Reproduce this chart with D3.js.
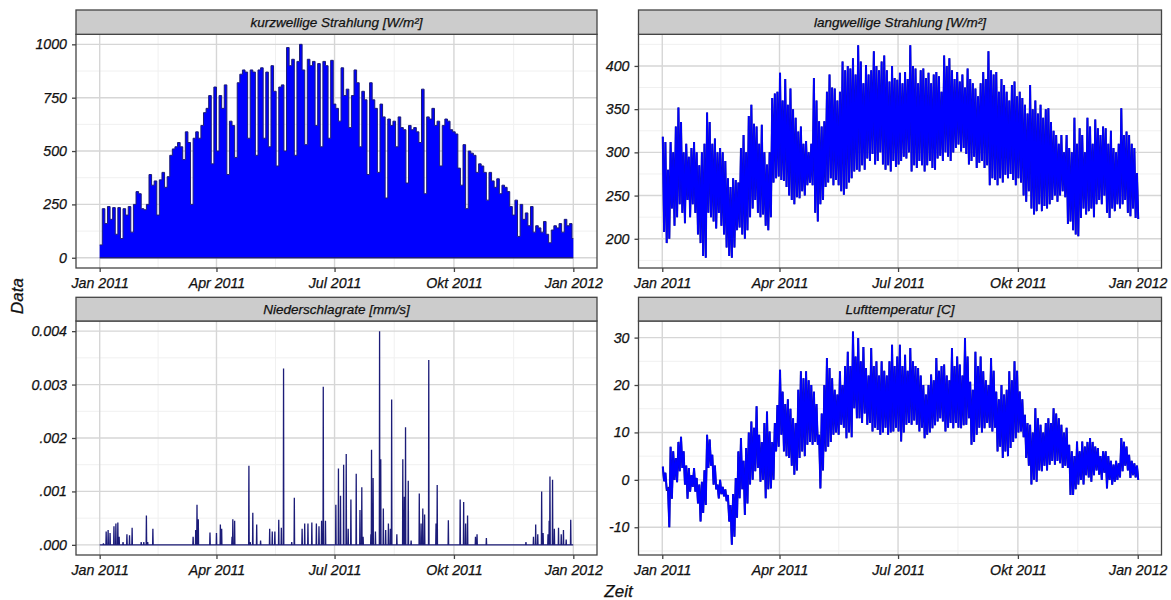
<!DOCTYPE html>
<html><head><meta charset="utf-8">
<script src="https://cdn.jsdelivr.net/npm/d3@7"></script>
<style>
body{margin:0;background:#fff}
text{font-family:"Liberation Sans",Arial,sans-serif;font-style:italic}
</style>
</head><body>
<svg id="chart" width="1171" height="600"></svg>
<script>
// ---------- DATA ----------
const sampleStepDays = 2; // one sample per two days
const swMax = [60,230,160,240,180,235,110,235,90,230,
200,240,120,250,310,300,230,225,250,390,
340,360,200,365,400,330,380,480,510,520,
540,520,460,590,540,250,560,590,560,620,
680,700,760,440,800,500,760,700,810,390,
640,620,470,820,860,880,870,560,880,870,
480,880,890,560,870,520,900,780,430,800,
810,500,985,900,930,480,920,1000,880,530,
930,900,920,620,910,520,920,900,560,925,
720,700,640,890,760,790,610,760,880,820,
520,780,740,390,820,740,700,400,720,660,
280,650,620,640,520,660,610,600,350,620,
600,610,590,540,790,300,660,650,700,620,
640,430,620,650,640,600,590,580,420,340,
530,230,500,490,480,400,440,430,400,270,
400,360,330,370,300,340,330,310,240,200,
270,100,250,180,210,150,240,120,150,140,
120,170,110,70,130,150,140,160,120,180,
150,160,90];

const lwMax = [318,312,280,312,300,330,352,335,300,310,
295,305,312,300,285,300,310,346,335,310,
316,300,305,300,290,270,260,270,268,265,
305,320,300,342,355,333,330,310,332,300,
286,300,363,368,370,392,360,385,355,374,
350,340,324,330,310,313,300,310,386,360,
336,330,336,370,390,375,374,360,370,405,
395,400,397,409,390,424,405,380,401,390,
395,417,400,395,405,412,395,382,400,386,
384,392,380,393,385,424,400,397,380,395,
397,386,392,380,390,393,388,370,412,400,
409,395,385,393,382,390,375,397,385,380,
374,365,380,393,385,417,395,390,393,370,
385,378,370,360,378,382,365,370,363,355,
345,378,350,360,345,355,340,350,351,335,
325,320,310,320,300,320,305,300,340,310,
328,320,300,340,330,310,338,328,320,330,
328,310,325,305,300,310,351,320,324,320,
310,305,276];
const lwMin = [208,195,200,235,215,225,240,230,218,245,
225,240,230,205,195,180,178,230,225,220,
212,230,215,205,190,180,178,190,210,213,
205,200,210,225,235,245,230,225,228,215,
210,225,265,270,272,268,267,260,250,245,
240,248,247,255,250,262,265,262,230,220,
240,245,260,265,270,262,268,262,255,251,
258,265,270,278,280,278,285,280,293,290,
298,286,290,300,286,280,285,278,290,283,
286,290,295,293,300,278,285,282,290,285,
278,285,290,282,280,293,296,290,300,295,
290,300,305,309,301,305,298,286,290,295,
282,288,290,282,285,262,270,268,262,270,
265,274,270,275,268,262,270,265,250,243,
255,235,228,232,240,232,238,235,240,245,
250,243,250,255,248,217,220,210,205,203,
224,235,228,232,235,225,240,245,240,250,
230,224,235,232,240,235,240,245,230,226,
235,224,223];

const tMax = [2.8,1.5,-1.8,7,6,4.6,8,9.1,6,3,
2.5,1,2.5,0.4,-1,-0.4,2,9.5,8.5,5.3,
3,-1,0,-1.5,-2,-3.2,-5.3,-3,0.4,6,
8.8,4,6.7,10,12.3,11,15.5,9.5,8,12,
14.4,10.2,8,12,15.8,23.2,18.6,16,17,15,
13,12,19,22.9,21.4,22.9,21,20,18.6,16,
9.5,14,20,25.7,23.6,21.4,19,18,22.9,20,
24,27,24,31.3,26,29.9,25,28,23.6,22,
27.8,24,25,22,25,23,22,25,28.5,24,
26,28.5,24,26.4,23,27.8,25,24,23.6,22,
20,18,20,22.2,21,25.7,23,24,24.3,22,
21,27.8,24,26,24.3,22,29.9,26,20.7,19,
27,24,26,22.9,21,20,25.7,23,18.6,17,
20,18,19,22.9,21,25,23,18.6,17,13.7,
12,11.6,10,15.1,13,11.6,10,12,13,12,
15.1,14,13,11.6,10,11,7.4,6,5,8.1,
6,8.1,7,8,8.8,8,7,6.7,5,6,
6,5,4,3.2,4,3.5,8.8,8,7,5.3,
4,3.5,3];
const tMin = [-0.3,-2,-10,-4,0,-0.5,1.8,2.5,-1,-4,
-2.5,-1.5,-2.5,-5,-8.8,-7,-5.3,2.5,3,-1,
-2,-3.9,-3,-3.5,-4.5,-8.8,-13.7,-12,-8,-3.9,
-2,-7.4,-5,-1,0,1.8,2.5,-0.4,0,-3.9,
-2,-1.8,0,6,7,9.5,6,5,4.6,3,
1.1,2,4.6,6,5,7.4,8,7.4,8,7.4,
-1.8,2,6,7,8,9.5,10,9.5,11.6,11,
8.8,10,9,15.1,13,13,12,14,11.6,12,
10.2,11,10.5,9.5,10,11,9.5,10,10.2,11,
10.2,8.1,10,11.6,12,11.6,12.5,11.6,10.2,11,
8.8,9.5,10,10.9,11.5,12.3,13,12.3,10.2,11,
12,10.9,12,11,10.9,11.5,11.6,13,7.4,8,
9.5,11,10,10.9,12,11,10.2,11,6,7,
4.6,6,5,6.7,8,8.8,10,10.2,9,4.6,
3,-1,0,-0.4,2,1.8,3,2,3.2,4,
3.2,4,3.5,2.5,3,2.5,-3.2,-3.2,-2,-1,
0,-1,1,0.5,-0.4,1,2,1.1,0,1.5,
-1.8,0,-1,-0.4,0,0.5,1.8,3,2,0.4,
1,0.5,0];

// precipitation events: day of year and rate
const rainDay = [2.9,5,6.5,8,11,12.5,14,15,18,21,23,25,32,34,36,37,41,72,74,75,76,85,90,93,94,102,102.6,104,115,116,118,121,124,131,133,135,138,140,141.7,148,150,156,158,160.5,163.5,167,169,171,172.3,174,182,184,185.6,188,190,191.5,193.6,197.7,200.6,202,203,209,209.5,210.7,212.5,215.7,216.6,218.6,220.4,222.5,224,225,229,233.6,234.8,235.7,237.8,240,246.3,247.7,249,250.4,253.6,259.2,260.1,268.7,277.8,280.5,282,283.5,289.6,290.8,298,328.5,334.3,336,337.6,340.6,341.7,345.5,346.4,347,349,350.4,353.6,355.7,357.4,359.5,363];
const rainVal = [0.00003,0.00025,0.00028,0.00022,0.00035,0.0004,0.00042,0.00015,0.00005,0.0002,0.00018,0.00032,0.00005,0.00005,0.00055,0.00005,0.0003,0.00015,0.00028,0.00075,0.00048,0.00023,0.00022,0.00038,0.0003,0.00015,0.00048,0.00045,0.00148,0.00005,0.0006,0.00038,0.00008,0.0003,0.00025,0.00025,0.00047,0.00032,0.0033,0.00005,0.00088,0.0003,0.0004,0.0004,0.00042,0.0004,0.00035,0.00045,0.00296,0.00045,0.00075,0.00143,0.00092,0.0015,0.0017,0.0003,0.00085,0.00133,0.00065,0.00108,0.00015,0.0002,0.00178,0.00125,0.00025,0.004,0.0016,0.00068,0.00028,0.0004,0.0003,0.00272,0.0002,0.0016,0.0009,0.0022,0.0012,0.00008,0.00096,0.0004,0.00068,0.00057,0.00346,0.0004,0.00112,0.00046,0.00085,0.0008,0.0004,0.00055,0.00015,0.0002,0.00013,0.00005,0.00015,0.00038,0.0002,0.001,0.00022,0.0002,0.00045,0.00128,0.00122,0.0003,0.00032,0.0002,0.00028,0.0001,0.00047];

const xTickDates = ["2011-01-01","2011-04-01","2011-07-01","2011-10-01","2012-01-01"];
const xTickLabels = ["Jan 2011","Apr 2011","Jul 2011","Okt 2011","Jan 2012"];
const panelTitles = ["kurzwellige Strahlung [W/m²]","langwellige Strahlung [W/m²]","Niederschlagrate [mm/s]","Lufttemperatur [C]"];
const swTicks = [0,250,500,750,1000];
const swTickLabels = ["0","250","500","750","1000"];
const lwTicks = [200,250,300,350,400];
const lwTickLabels = ["200","250","300","350","400"];
const rainTicks = [0,0.001,0.002,0.003,0.004];
const rainTickLabels = [".000",".001",".002","0.003","0.004"];
const tTicks = [-10,0,10,20,30];
const tTickLabels = ["-10","0","10","20","30"];
const xTitle = "Zeit", yTitle = "Data";

// ---------- DRAWING ----------
const svg = d3.select("#chart");
const t0 = Date.UTC(2011,0,1);
const dayDate = d => new Date(t0 + d*864e5);
const xTicks = xTickDates.map(s => new Date(s+"T00:00:00Z"));

const NAVY = "#1c1c78", BLUE = "#0000ff", INK = "#111";

function styleText(sel, size){
  sel.attr("font-size",size).attr("fill",INK)
    .attr("stroke",INK).attr("stroke-width",0.25)
    .style("font-family",'"Liberation Sans",Arial,sans-serif').style("font-style","italic");
}

function makePanel(cfg){
  const {left,right,stripTop,stripBottom,bottom,yDomain,yTicks,yLabels,title} = cfg;
  const w = right-left, pad = w/22;
  const x = d3.scaleUtc().domain([xTicks[0], xTicks[4]]).range([left+pad, right-pad]);
  const y = d3.scaleLinear().domain(yDomain).range([bottom, stripBottom]);
  const g = svg.append("g");
  const xMinor = d3.range(xTicks.length-1).map(i => new Date((+xTicks[i] + +xTicks[i+1])/2));
  const step = yTicks[1]-yTicks[0];
  const yMinor = d3.range(yTicks.length+1).map(i => yTicks[0] - step/2 + i*step)
      .filter(v => v>yDomain[0] && v<yDomain[1]);
  g.selectAll(".ymin").data(yMinor).join("line")
    .attr("x1",left).attr("x2",right).attr("y1",d=>y(d)).attr("y2",d=>y(d))
    .attr("stroke","#f0f0f0").attr("stroke-width",1);
  g.selectAll(".xmin").data(xMinor).join("line")
    .attr("y1",stripBottom).attr("y2",bottom).attr("x1",d=>x(d)).attr("x2",d=>x(d))
    .attr("stroke","#f0f0f0").attr("stroke-width",1);
  g.selectAll(".ymaj").data(yTicks).join("line")
    .attr("x1",left).attr("x2",right).attr("y1",d=>y(d)).attr("y2",d=>y(d))
    .attr("stroke","#d6d6d6").attr("stroke-width",1.4);
  g.selectAll(".xmaj").data(xTicks).join("line")
    .attr("y1",stripBottom).attr("y2",bottom).attr("x1",d=>x(d)).attr("x2",d=>x(d))
    .attr("stroke","#d6d6d6").attr("stroke-width",1.4);
  const clipId = "clip"+cfg.id;
  svg.append("clipPath").attr("id",clipId).append("rect")
    .attr("x",left).attr("y",stripBottom).attr("width",w).attr("height",bottom-stripBottom);
  const sg = g.append("g").attr("clip-path",`url(#${clipId})`);
  cfg.draw(sg,x,y);
  g.append("rect").attr("x",left).attr("y",stripBottom).attr("width",w).attr("height",bottom-stripBottom)
    .attr("fill","none").attr("stroke","#444").attr("stroke-width",1.3);
  g.append("rect").attr("x",left).attr("y",stripTop).attr("width",w).attr("height",stripBottom-stripTop)
    .attr("fill","#cccccc").attr("stroke","#444").attr("stroke-width",1.3);
  const st = g.append("text").attr("x",(left+right)/2).attr("y",(stripTop+stripBottom)/2).attr("dy","0.36em")
    .attr("text-anchor","middle").text(title);
  styleText(st, 13.5);
  const xAxis = d3.axisBottom(x).tickValues(xTicks).tickFormat((d,i)=>xTickLabels[i]).tickSizeOuter(0).tickSize(4).tickPadding(6);
  const xa = g.append("g").attr("transform",`translate(0,${bottom})`).call(xAxis);
  const yAxis = d3.axisLeft(y).tickValues(yTicks).tickFormat((d,i)=>yLabels[i]).tickSizeOuter(0).tickSize(4).tickPadding(5);
  const ya = g.append("g").attr("transform",`translate(${left},0)`).call(yAxis);
  [xa,ya].forEach(a=>{
    a.select(".domain").remove();
    a.selectAll(".tick line").attr("stroke","#444").attr("stroke-width",1.3);
    styleText(a.selectAll(".tick text"), 14.2);
  });
}

function zigzag(maxArr, minArr){
  const pts = [];
  maxArr.forEach((v,i)=>{
    pts.push([i*sampleStepDays+0.4, v]);
    pts.push([i*sampleStepDays+1.4, minArr[i]]);
  });
  return pts;
}
function drawZig(sg,x,y,pts){
  const line = d3.line().x(d=>x(dayDate(d[0]))).y(d=>y(d[1]));
  sg.append("path").attr("d",line(pts)).attr("fill","none").attr("stroke",NAVY).attr("stroke-width",2.0).attr("stroke-linejoin","miter");
  sg.append("path").attr("d",line(pts)).attr("fill","none").attr("stroke",BLUE).attr("stroke-width",1.7).attr("stroke-linejoin","bevel");
}

const colL = {left:76, right:597}, colR = {left:638.5, right:1161.5};
const rowT = {stripTop:10, stripBottom:34.3, bottom:268}, rowB = {stripTop:297.3, stripBottom:321, bottom:555};

makePanel({id:1, ...colL, ...rowT, yDomain:[-48,1047], yTicks:swTicks, yLabels:swTickLabels, title:panelTitles[0],
  draw:(sg,x,y)=>{
    const pts = swMax.map((v,i)=>[i*sampleStepDays, v]);
    pts.push([365, swMax[swMax.length-1]]);
    const area = d3.area().x(d=>x(dayDate(d[0]))).y0(y(0)).y1(d=>y(d[1])).curve(d3.curveStepAfter);
    const line = d3.line().x(d=>x(dayDate(d[0]))).y(d=>y(d[1])).curve(d3.curveStepAfter);
    sg.append("path").attr("d",area(pts)).attr("fill",BLUE);
    sg.append("path").attr("d",line(pts)).attr("fill","none").attr("stroke",NAVY).attr("stroke-width",1);
    sg.append("line").attr("x1",x(dayDate(0))).attr("x2",x(dayDate(365))).attr("y1",y(0)).attr("y2",y(0)).attr("stroke",NAVY).attr("stroke-width",1.5);
  }});

makePanel({id:2, ...colR, ...rowT, yDomain:[166.2,436.6], yTicks:lwTicks, yLabels:lwTickLabels, title:panelTitles[1],
  draw:(sg,x,y)=>drawZig(sg,x,y,zigzag(lwMax,lwMin))});

makePanel({id:3, ...colL, ...rowB, yDomain:[-0.00019,0.00419], yTicks:rainTicks, yLabels:rainTickLabels, title:panelTitles[2],
  draw:(sg,x,y)=>{
    const pts = [[0,0]];
    rainDay.forEach((d,i)=>{ pts.push([d-0.2,0],[d,rainVal[i]],[d+0.2,0]); });
    pts.push([365,0]);
    const line = d3.line().x(d=>x(dayDate(d[0]))).y(d=>y(d[1]));
    sg.append("path").attr("d",line(pts)).attr("fill",BLUE).attr("stroke",NAVY).attr("stroke-width",1.3);
  }});

makePanel({id:4, ...colR, ...rowB, yDomain:[-15.85,33.5], yTicks:tTicks, yLabels:tTickLabels, title:panelTitles[3],
  draw:(sg,x,y)=>drawZig(sg,x,y,zigzag(tMax,tMin))});

styleText(svg.append("text").attr("x",618.5).attr("y",597).attr("text-anchor","middle").text(xTitle), 17);
styleText(svg.append("text").attr("transform","translate(23,296) rotate(-90)").attr("text-anchor","middle").text(yTitle), 17);
</script>
</body></html>
